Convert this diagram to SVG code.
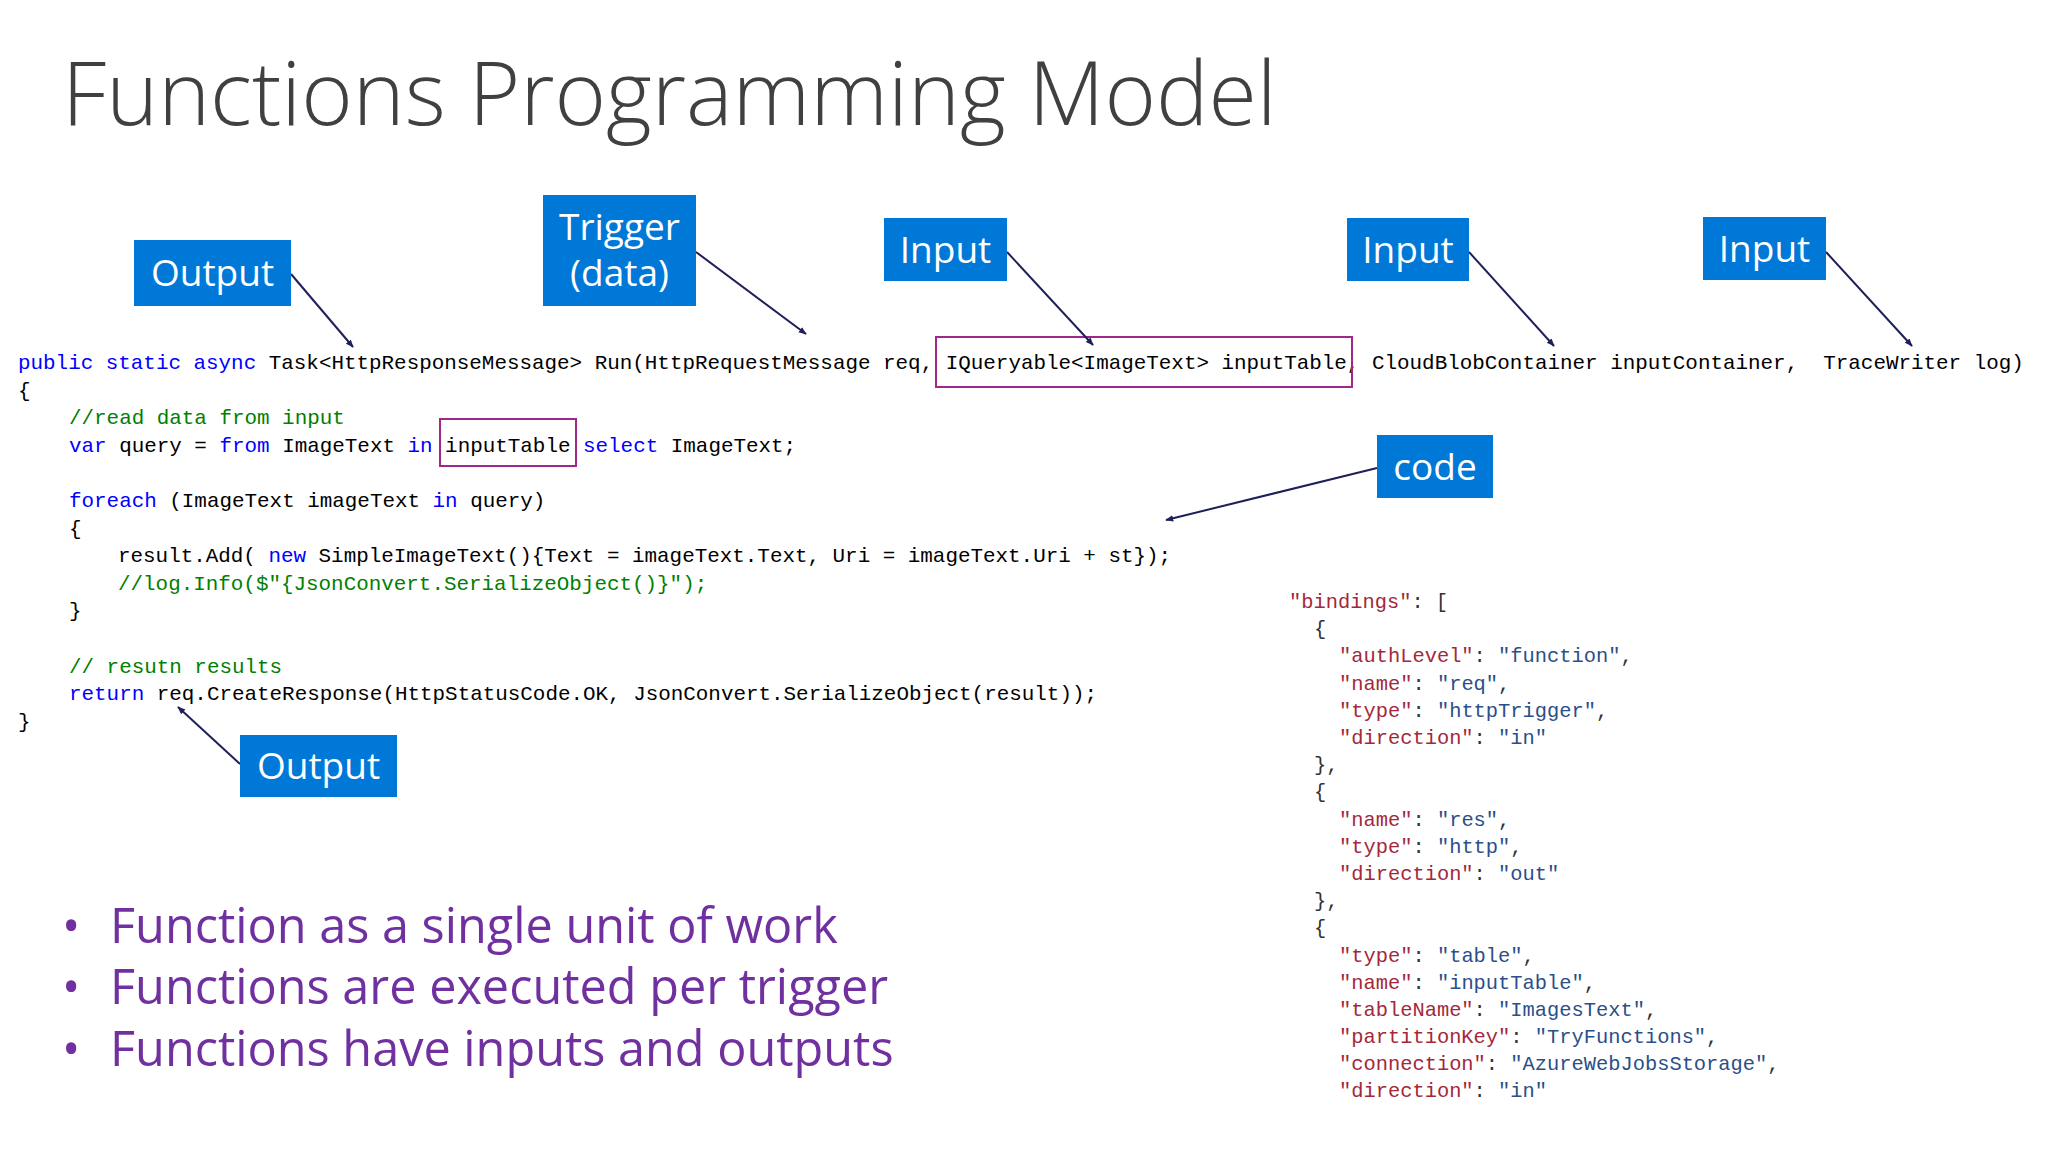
<svg xmlns="http://www.w3.org/2000/svg" width="2048" height="1152" viewBox="0 0 2048 1152">
<defs>
<marker id="ah" viewBox="0 0 10 10" refX="9" refY="5" markerWidth="8" markerHeight="8" orient="auto-start-reverse" markerUnits="userSpaceOnUse"><path d="M0,1 L10,5 L0,9 z" fill="#1f1f5a"/></marker>
<style>
.code{font-family:"Liberation Mono",monospace;font-size:20.9px;fill:#000;white-space:pre}
.kw{fill:#0000ff}.cm{fill:#008000}
.json{font-family:"Liberation Mono",monospace;font-size:20.4px;fill:#333;white-space:pre}
.k{fill:#a3283c}.v{fill:#2a4f8a}
.box{fill:#0078d7}
.lbl{font-family:"Open Sans","Noto Sans",sans-serif;font-size:37px;fill:#fff;text-anchor:middle}
.arr{stroke:#1f1f5a;stroke-width:2;fill:none;marker-end:url(#ah)}
.hl{fill:none;stroke:#a0288c;stroke-width:2}
.bul{font-family:"Open Sans","Noto Sans",sans-serif;font-size:48.6px;fill:#7030a0}
</style>
</defs>
<rect width="2048" height="1152" fill="#fff"/>
<text x="62" y="125" font-family="Open Sans, Noto Sans, sans-serif" font-weight="300" font-size="88" fill="#404040">Functions Programming Model</text>

<g id="code">
<text class="code" x="18" y="369" xml:space="preserve"><tspan class="kw">public static async</tspan> Task&lt;HttpResponseMessage&gt; Run(HttpRequestMessage req, IQueryable&lt;ImageText&gt; inputTable, CloudBlobContainer inputContainer,  TraceWriter log)</text>
<text class="code" x="18" y="397">{</text>
<text class="code cm" x="69" y="424">//read data from input</text>
<text class="code" x="69" y="452" xml:space="preserve"><tspan class="kw">var</tspan> query = <tspan class="kw">from</tspan> ImageText <tspan class="kw">in</tspan> inputTable <tspan class="kw">select</tspan> ImageText;</text>
<text class="code" x="69" y="507" xml:space="preserve"><tspan class="kw">foreach</tspan> (ImageText imageText <tspan class="kw">in</tspan> query)</text>
<text class="code" x="69" y="535">{</text>
<text class="code" x="118" y="562" xml:space="preserve">result.Add( <tspan class="kw">new</tspan> SimpleImageText(){Text = imageText.Text, Uri = imageText.Uri + st});</text>
<text class="code cm" x="118" y="590">//log.Info($"{JsonConvert.SerializeObject()}");</text>
<text class="code" x="69" y="617">}</text>
<text class="code cm" x="69" y="673">// resutn results</text>
<text class="code" x="69" y="700" xml:space="preserve"><tspan class="kw">return</tspan> req.CreateResponse(HttpStatusCode.OK, JsonConvert.SerializeObject(result));</text>
<text class="code" x="18" y="728">}</text>
<rect class="hl" x="936" y="337" width="416" height="50"/>
<rect class="hl" x="440" y="419" width="136" height="47"/>
</g>

<g id="json">
<text class="json" x="1289" y="608"><tspan class="k">"bindings"</tspan>: [</text>
<text class="json" x="1314" y="635">{</text>
<text class="json" x="1339" y="662"><tspan class="k">"authLevel"</tspan>: <tspan class="v">"function"</tspan>,</text>
<text class="json" x="1339" y="690"><tspan class="k">"name"</tspan>: <tspan class="v">"req"</tspan>,</text>
<text class="json" x="1339" y="717"><tspan class="k">"type"</tspan>: <tspan class="v">"httpTrigger"</tspan>,</text>
<text class="json" x="1339" y="744"><tspan class="k">"direction"</tspan>: <tspan class="v">"in"</tspan></text>
<text class="json" x="1314" y="771">},</text>
<text class="json" x="1314" y="798">{</text>
<text class="json" x="1339" y="826"><tspan class="k">"name"</tspan>: <tspan class="v">"res"</tspan>,</text>
<text class="json" x="1339" y="853"><tspan class="k">"type"</tspan>: <tspan class="v">"http"</tspan>,</text>
<text class="json" x="1339" y="880"><tspan class="k">"direction"</tspan>: <tspan class="v">"out"</tspan></text>
<text class="json" x="1314" y="907">},</text>
<text class="json" x="1314" y="934">{</text>
<text class="json" x="1339" y="962"><tspan class="k">"type"</tspan>: <tspan class="v">"table"</tspan>,</text>
<text class="json" x="1339" y="989"><tspan class="k">"name"</tspan>: <tspan class="v">"inputTable"</tspan>,</text>
<text class="json" x="1339" y="1016"><tspan class="k">"tableName"</tspan>: <tspan class="v">"ImagesText"</tspan>,</text>
<text class="json" x="1339" y="1043"><tspan class="k">"partitionKey"</tspan>: <tspan class="v">"TryFunctions"</tspan>,</text>
<text class="json" x="1339" y="1070"><tspan class="k">"connection"</tspan>: <tspan class="v">"AzureWebJobsStorage"</tspan>,</text>
<text class="json" x="1339" y="1097"><tspan class="k">"direction"</tspan>: <tspan class="v">"in"</tspan></text>
</g>

<g id="connectors">
<line class="arr" x1="291" y1="274" x2="353" y2="347"/>
<line class="arr" x1="696" y1="252" x2="806" y2="334"/>
<line class="arr" x1="1007" y1="252" x2="1093" y2="345"/>
<line class="arr" x1="1469" y1="252" x2="1554" y2="346"/>
<line class="arr" x1="1826" y1="252" x2="1912" y2="346"/>
<line class="arr" x1="1377" y1="468" x2="1166" y2="520"/>
<line class="arr" x1="240" y1="764" x2="178" y2="707"/>
</g>

<g id="output1"><rect class="box" x="134" y="240" width="157" height="66"/><text class="lbl" x="212.5" y="286">Output</text></g>
<g id="trigger"><rect class="box" x="543" y="195" width="153" height="111"/><text class="lbl" x="619.5" y="240">Trigger</text><text class="lbl" x="619.5" y="286">(data)</text></g>
<g id="input1"><rect class="box" x="884" y="218" width="123" height="63"/><text class="lbl" x="945.5" y="263">Input</text></g>
<g id="input2"><rect class="box" x="1347" y="218" width="122" height="63"/><text class="lbl" x="1408" y="263">Input</text></g>
<g id="input3"><rect class="box" x="1703" y="217" width="123" height="63"/><text class="lbl" x="1764.5" y="262">Input</text></g>
<g id="code-label"><rect class="box" x="1377" y="435" width="116" height="63"/><text class="lbl" x="1435" y="480">code</text></g>
<g id="output2"><rect class="box" x="240" y="735" width="157" height="62"/><text class="lbl" x="318.5" y="779">Output</text></g>

<g id="bullets">
<text class="bul" x="62" y="943">•</text><text class="bul" x="110" y="943">Function as a single unit of work</text>
<text class="bul" x="62" y="1004">•</text><text class="bul" x="110" y="1004">Functions are executed per trigger</text>
<text class="bul" x="62" y="1066">•</text><text class="bul" x="110" y="1066">Functions have inputs and outputs</text>
</g>
</svg>
